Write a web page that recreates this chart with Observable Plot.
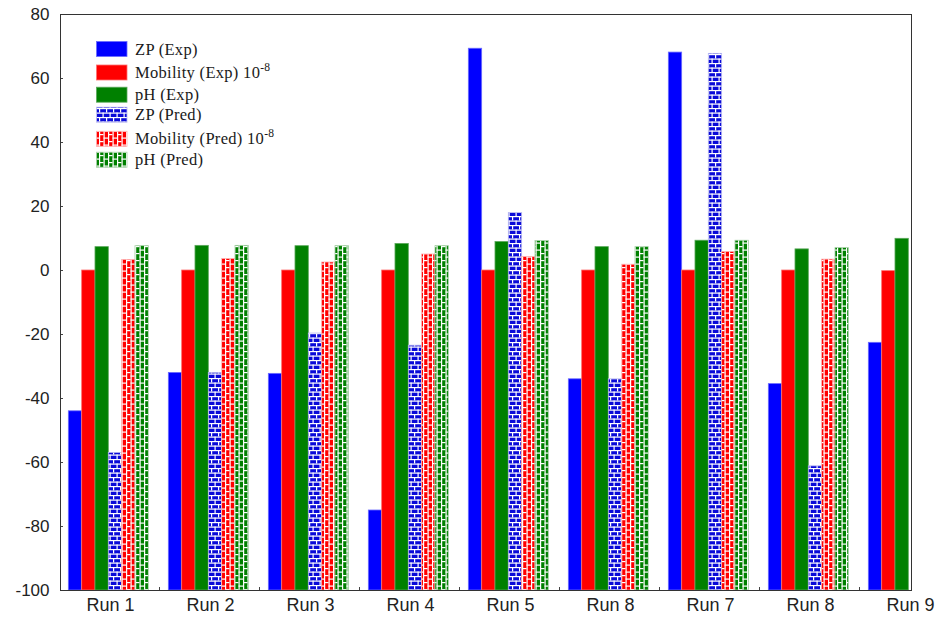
<!DOCTYPE html>
<html>
<head>
<meta charset="utf-8">
<script src="https://cdn.jsdelivr.net/npm/d3@7"></script>
<script src="https://cdn.jsdelivr.net/npm/@observablehq/plot@0.6"></script>
<style>
  html, body { margin: 0; padding: 0; background: #fff; }
</style>
</head>
<body>
<div id="chart"></div>
<script>
// ---- data ----
const runLabels = ["Run 1", "Run 2", "Run 3", "Run 4", "Run 5", "Run 8", "Run 7", "Run 8", "Run 9"];
const zpExp    = [-44, -32, -32.3, -75, 69.3, -34, 68.1, -35.5, -22.6];
const mobExp   = [0, 0, 0, 0, 0, 0, 0, 0, -0.2];
const pHExp    = [7.3, 7.7, 7.6, 8.3, 8.9, 7.3, 9.3, 6.6, 9.9];
const zpPred   = [-57, -32, -19.7, -23.5, 18, -34, 67.7, -61.2, null];
const mobPred  = [3.3, 3.6, 2.5, 5.0, 4.2, 1.8, 5.8, 3.4, null];
const pHPred   = [7.6, 7.7, 7.6, 7.6, 9.2, 7.3, 9.3, 7.0, null];
const yTicks   = [-100, -80, -60, -40, -20, 0, 20, 40, 60, 80];
const seriesNames = ["ZP (Exp)", "Mobility (Exp) 10", "pH (Exp)", "ZP (Pred)", "Mobility (Pred) 10", "pH (Pred)"];
const seriesSup   = ["", "-8", "", "", "-8", ""];

// ---- layout ----
const W = 937, H = 619;
const mL = 60, mR = 26, mT = 14, mB = 29;
const xRange = [60, 960];
const band = (xRange[1] - xRange[0]) / runLabels.length;
const barW = 13.33, barOff = 8.33;
const frameW = W - mL - mR, frameH = H - mT - mB;

const series = [
  {vals: zpExp,   fill: "#0000ff", stroke: "#6b6bff"},
  {vals: mobExp,  fill: "#ff0000", stroke: "#ff7070"},
  {vals: pHExp,   fill: "#008000", stroke: "#5aa85a"},
  {vals: zpPred,  fill: "url(#brickBlue)",  stroke: "#b8b8f0"},
  {vals: mobPred, fill: "url(#brickRed)",   stroke: "#ffb0b0"},
  {vals: pHPred,  fill: "url(#brickGreen)", stroke: "#a8d0a8"}
];

const barMarks = series.map((s, k) => {
  const rows = s.vals.map((v, i) => ({i, v})).filter(d => d.v != null);
  const left = barOff + k * barW;
  return Plot.barY(rows, {
    x: "i", y1: () => -100, y2: "v",
    insetLeft: left, insetRight: band - left - barW,
    fill: s.fill, stroke: s.stroke, strokeWidth: 0.8
  });
});

const svg = Plot.plot({
  width: W, height: H,
  marginLeft: mL, marginRight: mR, marginTop: mT, marginBottom: mB,
  style: {fontFamily: "'Liberation Sans', Arial, sans-serif", fontSize: "15px", color: "#222", background: "#fff"},
  x: {type: "band", domain: d3.range(runLabels.length), range: xRange, padding: 0, axis: null, label: null},
  y: {domain: [-100, 80], axis: null, label: null},
  marks: [
    ...barMarks,
    Plot.axisY(yTicks, {tickSize: 0, tickPadding: 11, fontSize: 17, fill: "#222", label: null,
      tickFormat: d => String(d)}),
    Plot.ruleY(yTicks, {y: d => d, insetRight: frameW - 3, stroke: "#444"}),
    Plot.barY(d3.range(runLabels.length - 1), {x: d => d, y1: () => -100, y2: () => 80,
      insetLeft: band - 1, insetRight: 0, insetTop: frameH - 3, fill: "#444"}),
    Plot.axisX(d3.range(runLabels.length), {tickSize: 0, tickPadding: 8, fontSize: 18, fill: "#222",
      label: null, tickFormat: i => runLabels[i]}),
    Plot.frame({stroke: "#333"})
  ]
});

// patterns
const root = d3.select(svg);
const defs = root.insert("defs", ":first-child");
function brickH(id, color) {
  const p = defs.append("pattern").attr("id", id).attr("patternUnits", "userSpaceOnUse")
    .attr("width", 7).attr("height", 9);
  p.append("rect").attr("width", 7).attr("height", 9).attr("fill", color);
  p.append("rect").attr("x", 0).attr("y", 0).attr("width", 7).attr("height", 1.2).attr("fill", "#fff");
  p.append("rect").attr("x", 0).attr("y", 4.5).attr("width", 7).attr("height", 1.2).attr("fill", "#fff");
  p.append("rect").attr("x", 1).attr("y", 0).attr("width", 1.2).attr("height", 4.5).attr("fill", "#fff");
  p.append("rect").attr("x", 4.5).attr("y", 4.5).attr("width", 1.2).attr("height", 4.5).attr("fill", "#fff");
}
function brickV(id, color) {
  const p = defs.append("pattern").attr("id", id).attr("patternUnits", "userSpaceOnUse")
    .attr("width", 9).attr("height", 7);
  p.append("rect").attr("width", 9).attr("height", 7).attr("fill", color);
  p.append("rect").attr("x", 0).attr("y", 0).attr("width", 1.2).attr("height", 7).attr("fill", "#fff");
  p.append("rect").attr("x", 4.5).attr("y", 0).attr("width", 1.2).attr("height", 7).attr("fill", "#fff");
  p.append("rect").attr("x", 0).attr("y", 1).attr("width", 4.5).attr("height", 1.2).attr("fill", "#fff");
  p.append("rect").attr("x", 4.5).attr("y", 4.5).attr("width", 4.5).attr("height", 1.2).attr("fill", "#fff");
}
brickH("brickBlue", "#0a0ad8");
brickV("brickRed", "#ff0000");
brickV("brickGreen", "#008000");

// legend (inside plot area)
const legendRows = [49, 72.5, 94.7, 114.7, 138.8, 159.7];
const lg = root.append("g").attr("font-family", "'Liberation Serif', 'Times New Roman', serif")
  .attr("font-size", 16.5).attr("fill", "#1a1a1a").attr("text-anchor", "start");
series.forEach((s, k) => {
  const cy = legendRows[k];
  lg.append("rect").attr("x", 96.5).attr("y", cy - 7.5).attr("width", 30.5).attr("height", 15)
    .attr("fill", s.fill).attr("stroke", s.stroke).attr("stroke-width", 0.8);
  const t = lg.append("text").attr("x", 135).attr("y", cy + 5.5).attr("text-anchor", "start")
    .attr("letter-spacing", 0.3).text(seriesNames[k]);
  if (seriesSup[k]) {
    t.append("tspan").attr("dy", -7).attr("font-size", 11.5).text(seriesSup[k]);
  }
});

document.getElementById("chart").appendChild(svg);
</script>
</body>
</html>
